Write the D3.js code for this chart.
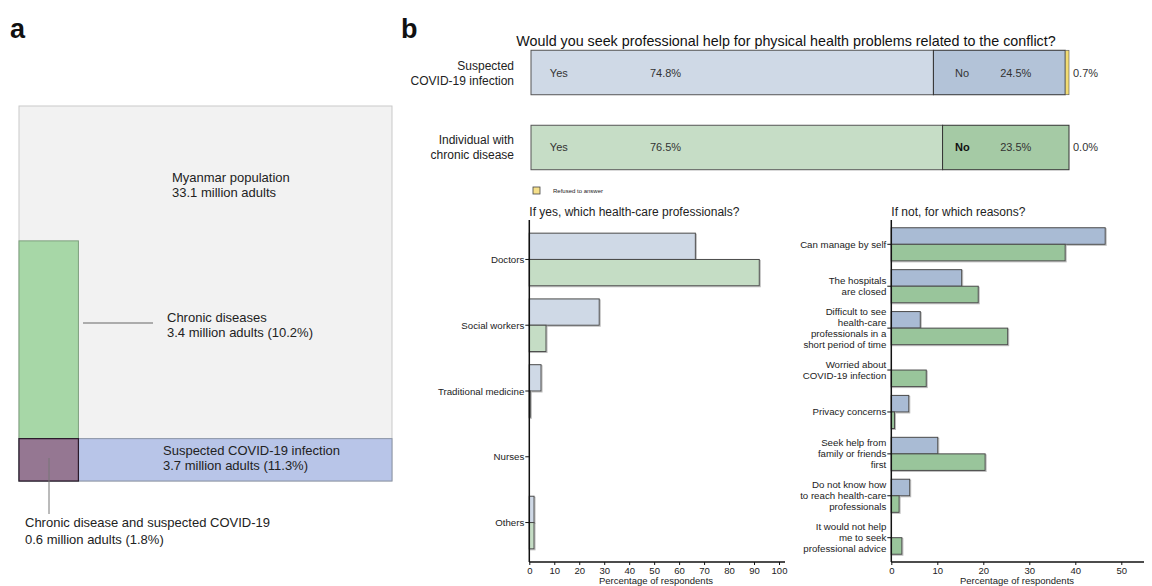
<!DOCTYPE html>
<html>
<head>
<meta charset="utf-8">
<script src="https://cdn.jsdelivr.net/npm/d3@7"></script>
<style>
  html, body { margin: 0; padding: 0; background: #fff; }
  svg { display: block; font-family: "Liberation Sans", Arial, sans-serif; }
</style>
</head>
<body>
<svg id="chart" width="1152" height="586"></svg>
<script>
// ---- Panel a: population overlap (area-proportional) ----
const populationAdults = 33.1;         // million
const chronicShare = 10.2;             // % of adults
const covidShare = 11.3;               // % of adults
const bothShare = 1.8;                 // % of adults
const panelALabels = [
  ["Myanmar population", "33.1 million adults"],
  ["Chronic diseases", "3.4 million adults (10.2%)"],
  ["Suspected COVID-19 infection", "3.7 million adults (11.3%)"],
  ["Chronic disease and suspected COVID-19", "0.6 million adults (1.8%)"]
];

// ---- Panel b: top stacked bars ----
const groups = ["Suspected COVID-19 infection", "Individual with chronic disease"];
const groupLabelLines = [["Suspected", "COVID-19 infection"], ["Individual with", "chronic disease"]];
const yesValues = [74.8, 76.5];
const noValues = [24.5, 23.5];
const refusedValues = [0.7, 0.0];

// ---- Panel b: professionals (if yes) ----
const proCategories = ["Doctors", "Social workers", "Traditional medicine", "Nurses", "Others"];
const proCovid = [66.5, 28.0, 4.7, 0, 1.9];
const proChronic = [92.1, 6.7, 0.4, 0, 1.9];
const proTicks = [0, 10, 20, 30, 40, 50, 60, 70, 80, 90, 100];

// ---- Panel b: reasons (if not) ----
const reasonCategories = [
  ["Can manage by self"],
  ["The hospitals", "are closed"],
  ["Difficult to see", "health-care", "professionals in a", "short period of time"],
  ["Worried about", "COVID-19 infection"],
  ["Privacy concerns"],
  ["Seek help from", "family or friends", "first"],
  ["Do not know how", "to reach health-care", "professionals"],
  ["It would not help", "me to seek", "professional advice"]
];
const reasonCovid = [46.5, 15.3, 6.3, 0, 3.8, 10.1, 4.0, 0];
const reasonChronic = [37.8, 18.9, 25.3, 7.6, 0.7, 20.4, 1.7, 2.3];
const reasonTicks = [0, 10, 20, 30, 40, 50];

const svg = d3.select("#chart");
const textCol = "#222";

// ---------- Panel a ----------
svg.append("text").attr("x", 10).attr("y", 38)
  .attr("font-size", 27).attr("font-weight", "bold").attr("fill", "#111").text("a");

const ax = d3.scaleLinear().domain([0, 1]).range([19, 392]);
const ay = d3.scaleLinear().domain([0, 1]).range([481, 106]);
const covidH = covidShare / 100;                 // height fraction of covid row
const chronicW = bothShare / covidShare;         // width fraction of chronic column
const chronicH = (chronicShare / 100) / chronicW;

const gA = svg.append("g");
gA.append("rect").attr("x", ax(0)).attr("y", ay(1))
  .attr("width", ax(1) - ax(0)).attr("height", ay(0) - ay(1))
  .attr("fill", "#f2f2f2").attr("stroke", "#c9c9c9").attr("stroke-width", 1);
gA.append("rect").attr("x", ax(0)).attr("y", ay(chronicH))
  .attr("width", ax(chronicW) - ax(0)).attr("height", ay(0) - ay(chronicH))
  .attr("fill", "#a7d7a7").attr("stroke", "#7d9f7d").attr("stroke-width", 1);
gA.append("rect").attr("x", ax(0)).attr("y", ay(covidH))
  .attr("width", ax(1) - ax(0)).attr("height", ay(0) - ay(covidH))
  .attr("fill", "#b8c5e8").attr("stroke", "#8a93a6").attr("stroke-width", 1);
gA.append("rect").attr("x", ax(0)).attr("y", ay(covidH))
  .attr("width", ax(chronicW) - ax(0)).attr("height", ay(0) - ay(covidH))
  .attr("fill", "#957792").attr("stroke", "#2a1a2a").attr("stroke-width", 1.2);

function twoLines(g, x, y, lines, size, gap) {
  lines.forEach((t, i) => {
    g.append("text").attr("x", x).attr("y", y + i * gap)
      .attr("font-size", size).attr("fill", textCol).text(t);
  });
}
twoLines(gA, 172, 182, panelALabels[0], 13, 15);
twoLines(gA, 167, 322, panelALabels[1], 13, 15);
twoLines(gA, 163, 455, panelALabels[2], 13, 15);
twoLines(gA, 25, 527, panelALabels[3], 13, 17);
gA.append("line").attr("x1", 83).attr("x2", 153).attr("y1", 323).attr("y2", 323)
  .attr("stroke", "#666").attr("stroke-width", 1);
gA.append("line").attr("x1", 49).attr("x2", 49).attr("y1", 458).attr("y2", 514)
  .attr("stroke", "#777").attr("stroke-width", 1);

// ---------- Panel b ----------
svg.append("text").attr("x", 401).attr("y", 38)
  .attr("font-size", 27).attr("font-weight", "bold").attr("fill", "#111").text("b");
svg.append("text").attr("x", 786).attr("y", 46).attr("text-anchor", "middle")
  .attr("font-size", 14.3).attr("fill", "#111")
  .text("Would you seek professional help for physical health problems related to the conflict?");

const bx = d3.scaleLinear().domain([0, 100]).range([531, 1069]);
const by = d3.scaleBand().domain(groups).range([43, 177]).paddingInner(0.407).paddingOuter(0.097);
const yesFill = ["#cfd9e6", "#c6ddc6"];
const noFill = ["#b3c3d8", "#a5caa5"];
// label anchor positions along the bar, in percent units
const labelPos = { yes: 3.5, yesPct: 22.1, no: 78.8, noPct: 87.2 };

const gTop = svg.append("g");
groups.forEach((grp, i) => {
  const y0 = by(grp), h = by.bandwidth();
  const ys = yesValues[i], ns = noValues[i], rf = refusedValues[i];
  gTop.append("rect").attr("x", bx(0)).attr("y", y0).attr("width", bx(ys) - bx(0)).attr("height", h)
    .attr("fill", yesFill[i]).attr("stroke", "#555").attr("stroke-width", 1);
  gTop.append("rect").attr("x", bx(ys)).attr("y", y0).attr("width", bx(ys + ns) - bx(ys)).attr("height", h)
    .attr("fill", noFill[i]).attr("stroke", "#333").attr("stroke-width", 1);
  if (rf > 0) {
    gTop.append("rect").attr("x", bx(ys + ns)).attr("y", y0).attr("width", bx(ys + ns + rf) - bx(ys + ns)).attr("height", h)
      .attr("fill", "#f3dc72").attr("stroke", "#555").attr("stroke-width", 0.6);
  }
  const cy = y0 + h / 2 + 4;
  gTop.append("text").attr("x", bx(labelPos.yes)).attr("y", cy).attr("font-size", 11).attr("fill", "#333").text("Yes");
  gTop.append("text").attr("x", bx(labelPos.yesPct)).attr("y", cy).attr("font-size", 11).attr("fill", "#333").text(ys.toFixed(1) + "%");
  gTop.append("text").attr("x", bx(labelPos.no)).attr("y", cy).attr("font-size", 11)
    .attr("fill", i === 1 ? "#111" : "#333").attr("font-weight", i === 1 ? "bold" : "normal").text("No");
  gTop.append("text").attr("x", bx(labelPos.noPct)).attr("y", cy).attr("font-size", 11).attr("fill", "#333").text(ns.toFixed(1) + "%");
  gTop.append("text").attr("x", bx(100) + 4).attr("y", cy).attr("font-size", 11).attr("fill", "#333").text(rf.toFixed(1) + "%");
  groupLabelLines[i].forEach((t, k) => {
    gTop.append("text").attr("x", 514).attr("y", y0 + h / 2 - 3 + k * 15).attr("text-anchor", "end")
      .attr("font-size", 12).attr("fill", textCol).text(t);
  });
});
// legend for refused answers
gTop.append("rect").attr("x", 533).attr("y", 187).attr("width", 7).attr("height", 7)
  .attr("fill", "#f6e08a").attr("stroke", "#444").attr("stroke-width", 0.8);
gTop.append("text").attr("x", 553).attr("y", 193).attr("font-size", 6).attr("fill", textCol).text("Refused to answer");

// grouped horizontal bar chart helper
function groupedBars(opts) {
  const g = svg.append("g");
  const keys = opts.labels.map((_, i) => String(i));
  const x = d3.scaleLinear().domain(opts.domain).range(opts.xRange);
  const y = d3.scaleBand().domain(keys).range([220, 562]).paddingInner(opts.pi).paddingOuter(opts.po);
  const half = y.bandwidth() / 2;

  g.append("text").attr("x", opts.xRange[0]).attr("y", 216).attr("font-size", 12).attr("fill", textCol).text(opts.title);

  keys.forEach((k, i) => {
    const y0 = y(k);
    [[opts.a[i], opts.colA, y0], [opts.b[i], opts.colB, y0 + half]].forEach(([v, col, yy]) => {
      if (v <= 0) return;
      // soft drop shadow
      g.append("rect").attr("x", x(0)).attr("y", yy + 1).attr("width", x(v) - x(0) + 1).attr("height", half)
        .attr("fill", "none").attr("stroke", "#bbb").attr("stroke-width", 1);
      g.append("rect").attr("x", x(0)).attr("y", yy).attr("width", x(v) - x(0)).attr("height", half)
        .attr("fill", col).attr("stroke", "#4a4a4a").attr("stroke-width", 1);
    });
  });

  // x axis
  const xa = g.append("g").attr("transform", "translate(0,562)")
    .call(d3.axisBottom(x).tickValues(opts.ticks).tickSize(3).tickSizeOuter(0));
  xa.select(".domain").remove();
  xa.selectAll("text").attr("font-size", 9.5).attr("fill", textCol).attr("y", 5.3).attr("dy", "0.71em")
    .attr("font-family", "'Liberation Sans', Arial, sans-serif");
  xa.selectAll("line").attr("stroke", "#111");
  g.append("line").attr("x1", x(0)).attr("x2", opts.axisEnd).attr("y1", 562).attr("y2", 562)
    .attr("stroke", "#111").attr("stroke-width", 1.5);
  g.append("text").attr("x", opts.titleX).attr("y", 584).attr("text-anchor", "middle")
    .attr("font-size", 9.5).attr("fill", textCol).text("Percentage of respondents");

  // y axis
  g.append("line").attr("x1", x(0)).attr("x2", x(0)).attr("y1", 220).attr("y2", 562)
    .attr("stroke", "#111").attr("stroke-width", 1.5);
  keys.forEach((k, i) => {
    const cy = y(k) + half;
    g.append("line").attr("x1", x(0) - 4).attr("x2", x(0)).attr("y1", cy).attr("y2", cy)
      .attr("stroke", "#111").attr("stroke-width", 1);
    const lines = opts.labels[i];
    const lh = 11;
    lines.forEach((t, j) => {
      g.append("text").attr("x", x(0) - 5).attr("y", cy + (j - (lines.length - 1) / 2) * lh + 3.5)
        .attr("text-anchor", "end").attr("font-size", 9.7).attr("fill", textCol).text(t);
    });
  });
}

groupedBars({
  title: "If yes, which health-care professionals?",
  labels: proCategories.map(d => [d]),
  a: proCovid, b: proChronic,
  colA: "#cfd9e6", colB: "#c5ddc5",
  domain: [0, 100], xRange: [529.3, 779], ticks: proTicks,
  pi: 0.2, po: 0.2, axisEnd: 785, titleX: 656
});

groupedBars({
  title: "If not, for which reasons?",
  labels: reasonCategories,
  a: reasonCovid, b: reasonChronic,
  colA: "#a9bbd4", colB: "#99c59b",
  domain: [0, 55], xRange: [891.3, 1144.3], ticks: reasonTicks,
  pi: 0.21, po: 0.185, axisEnd: 1144, titleX: 1017
});
</script>
</body>
</html>
